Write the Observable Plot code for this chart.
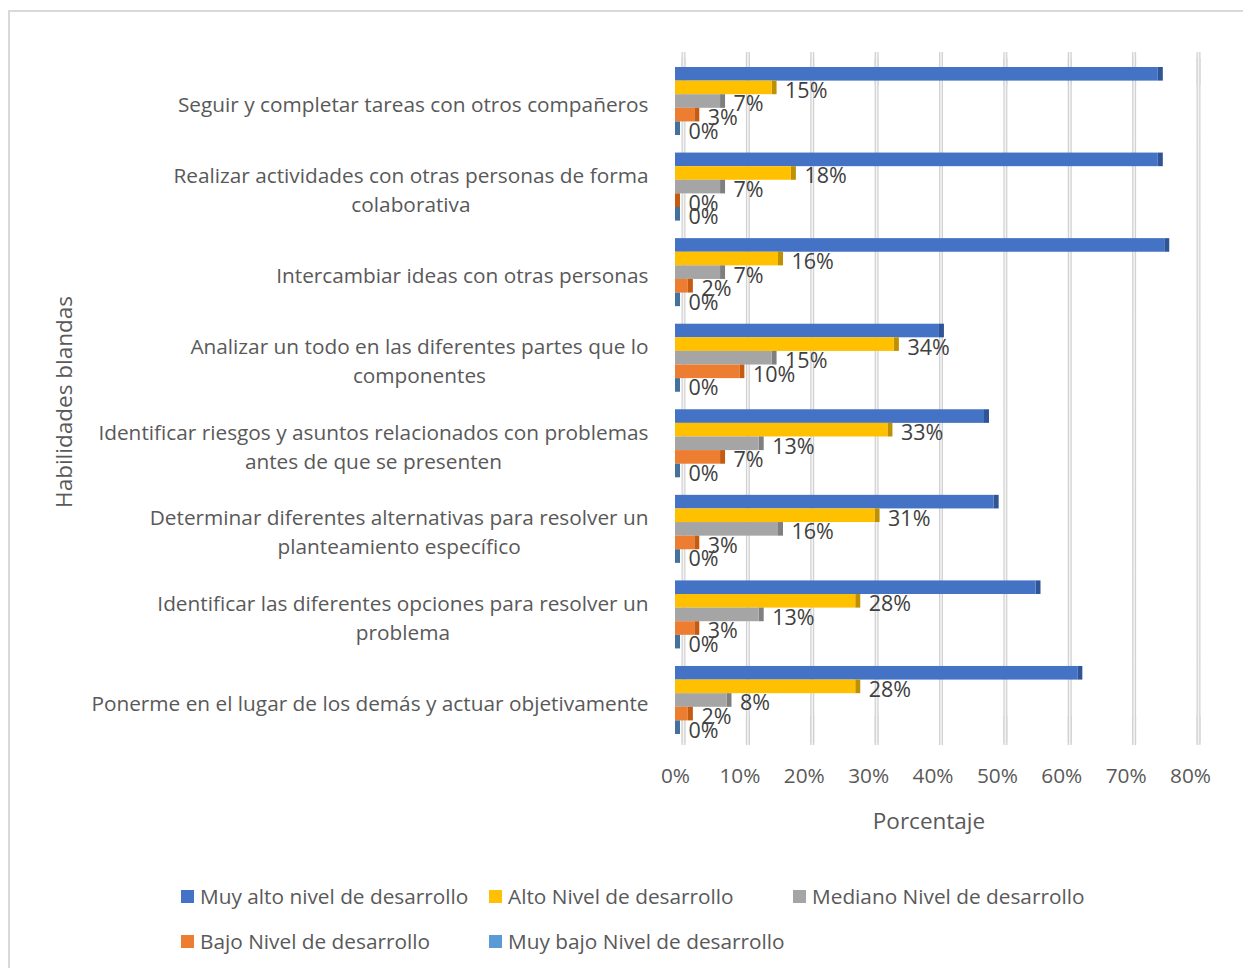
<!DOCTYPE html>
<html><head><meta charset="utf-8">
<script src="https://cdn.jsdelivr.net/npm/d3@7"></script>
<script src="https://cdn.jsdelivr.net/npm/@observablehq/plot@0.6"></script>
<style>
body{margin:0;background:#fff;font-family:"Open Sans",sans-serif;overflow:hidden;}
#frame{position:absolute;left:8px;top:10px;width:1300px;height:1000px;border-top:2px solid #d9d9d9;border-left:2px solid #d9d9d9;}
#chart{position:absolute;left:0;top:0;}
#ytitle{position:absolute;left:63px;top:402px;transform:translate(-50%,-50%) rotate(-90deg);font-size:22.5px;color:#595959;white-space:nowrap;}
#xtitle{position:absolute;left:929px;top:820px;transform:translate(-50%,-50%);font-size:22.5px;color:#595959;white-space:nowrap;}
.item{position:absolute;display:flex;align-items:center;font-size:20.8px;color:#595959;white-space:nowrap;transform:translateY(-50%);}
.sw{width:13px;height:13px;margin-right:6px;}
</style></head>
<body>
<div id="frame"></div>
<div id="chart"></div>
<div id="ytitle">Habilidades blandas</div>
<div id="xtitle"></div>
<div id="legend"></div>
<script>
const categories = [
  "Seguir y completar tareas con otros compañeros",
  "Realizar actividades con otras personas de forma\ncolaborativa",
  "Intercambiar ideas con otras personas",
  "Analizar un todo en las diferentes partes que lo\ncomponentes",
  "Identificar riesgos y asuntos relacionados con problemas\nantes de que se presenten",
  "Determinar diferentes alternativas para resolver un\nplanteamiento específico",
  "Identificar las diferentes opciones para resolver un\nproblema",
  "Ponerme en el lugar de los demás y actuar objetivamente"
];
const series = ["Muy alto nivel de desarrollo","Alto Nivel de desarrollo","Mediano Nivel de desarrollo","Bajo Nivel de desarrollo","Muy bajo Nivel de desarrollo"];
const muyAlto = [0.75,0.75,0.76,0.41,0.48,0.495,0.56,0.625];
const alto    = [0.15,0.18,0.16,0.34,0.33,0.31,0.28,0.28];
const mediano = [0.07,0.07,0.07,0.15,0.13,0.16,0.13,0.08];
const bajo    = [0.03,0.00,0.02,0.10,0.07,0.03,0.03,0.02];
const muyBajo = [0,0,0,0,0,0,0,0];
const colors     = ["#4472C4","#FFC000","#A5A5A5","#ED7D31","#5B9BD5"];
const sideColors = ["#2F5597","#BF9000","#7F7F7F","#C55A11","#41719C"];
const xTicks = [0,0.1,0.2,0.3,0.4,0.5,0.6,0.7,0.8];
const xLabel = "Porcentaje";

const seriesValues = [muyAlto, alto, mediano, bajo, muyBajo];
const rows = [];
categories.forEach((c,i) => series.forEach((s,j) => rows.push({cat:c, series:s, value:seriesValues[j][i]})));
const fmt = d3.format(".0%");

const catSize = 20.8;
const ctx = document.createElement("canvas").getContext("2d");
ctx.font = `${catSize}px 'Open Sans'`;
const blockW = c => Math.max(...c.split("\n").map(l => ctx.measureText(l).width));

const firstCat = categories[0], lastCat = categories[categories.length - 1];
const gridTop = xTicks.map(x => ({x, cat:firstCat}));
const gridBottom = xTicks.map(x => ({x, cat:lastCat}));
const gridStyle = (o) => [
  Plot.ruleX(o.data, {...o.opts, stroke:"#d2d2d2", strokeWidth:4, dx:8}),
  Plot.ruleX(o.data, {...o.opts, stroke:"#f4f4f4", strokeWidth:1.5, dx:8})
];
const marks = [
  ...gridStyle({data:xTicks, opts:{x:d=>d, insetTop:-9, insetBottom:-9}}),
  ...gridStyle({data:gridTop, opts:{x:"x", fy:"cat", insetTop:-15, insetBottom:50}}),
  ...gridStyle({data:gridBottom, opts:{x:"x", fy:"cat", insetTop:50, insetBottom:-11}})
];
series.forEach((s,j) => {
  const data = rows.filter(r => r.series === s);
  marks.push(Plot.barX(data, {fy:"cat", y:"series", x1:"value", x2:"value", insetRight:-5, fill:sideColors[j]}));
  marks.push(Plot.barX(data, {fy:"cat", y:"series", x1:0, x2:"value", fill:colors[j]}));
});
marks.push(Plot.text(rows.filter(r => r.series !== series[0]), {fy:"cat", y:"series", x:"value", text:d=>fmt(d.value), textAnchor:"start", dx:13, dy:3, fontSize:21.5, fill:"#404040"}));
categories.forEach(c => {
  marks.push(Plot.text([c], {fy:d=>d, text:d=>d, frameAnchor:"left", textAnchor:"middle", lineHeight:1.4, dx:-27 - blockW(c)/2, dy:1, fontSize:catSize, fill:"#595959"}));
});

const chart = Plot.plot({
  width:1243, height:860,
  marginLeft:675, marginRight:53, marginTop:67, marginBottom:126,
  style:{fontFamily:"'Open Sans'", fontSize:"20.8px", color:"#595959", background:"transparent", overflow:"visible"},
  x:{domain:[0,0.8], ticks:xTicks, tickFormat:fmt, tickSize:0, tickPadding:34, label:null},
  y:{domain:series, axis:null, padding:0, round:false},
  fy:{domain:categories, axis:null, paddingInner:0.205, paddingOuter:0, round:false},
  marks
});
document.getElementById("chart").appendChild(chart);
document.getElementById("xtitle").textContent = xLabel;

const legendPos = [[181,896],[489,896],[793,896],[181,941],[489,941]];
const lg = document.getElementById("legend");
series.forEach((s,j) => {
  const d = document.createElement("div");
  d.className = "item";
  d.style.left = legendPos[j][0] + "px";
  d.style.top = legendPos[j][1] + "px";
  d.innerHTML = `<span class="sw" style="background:${colors[j]}"></span><span>${s}</span>`;
  lg.appendChild(d);
});
</script>
</body></html>
